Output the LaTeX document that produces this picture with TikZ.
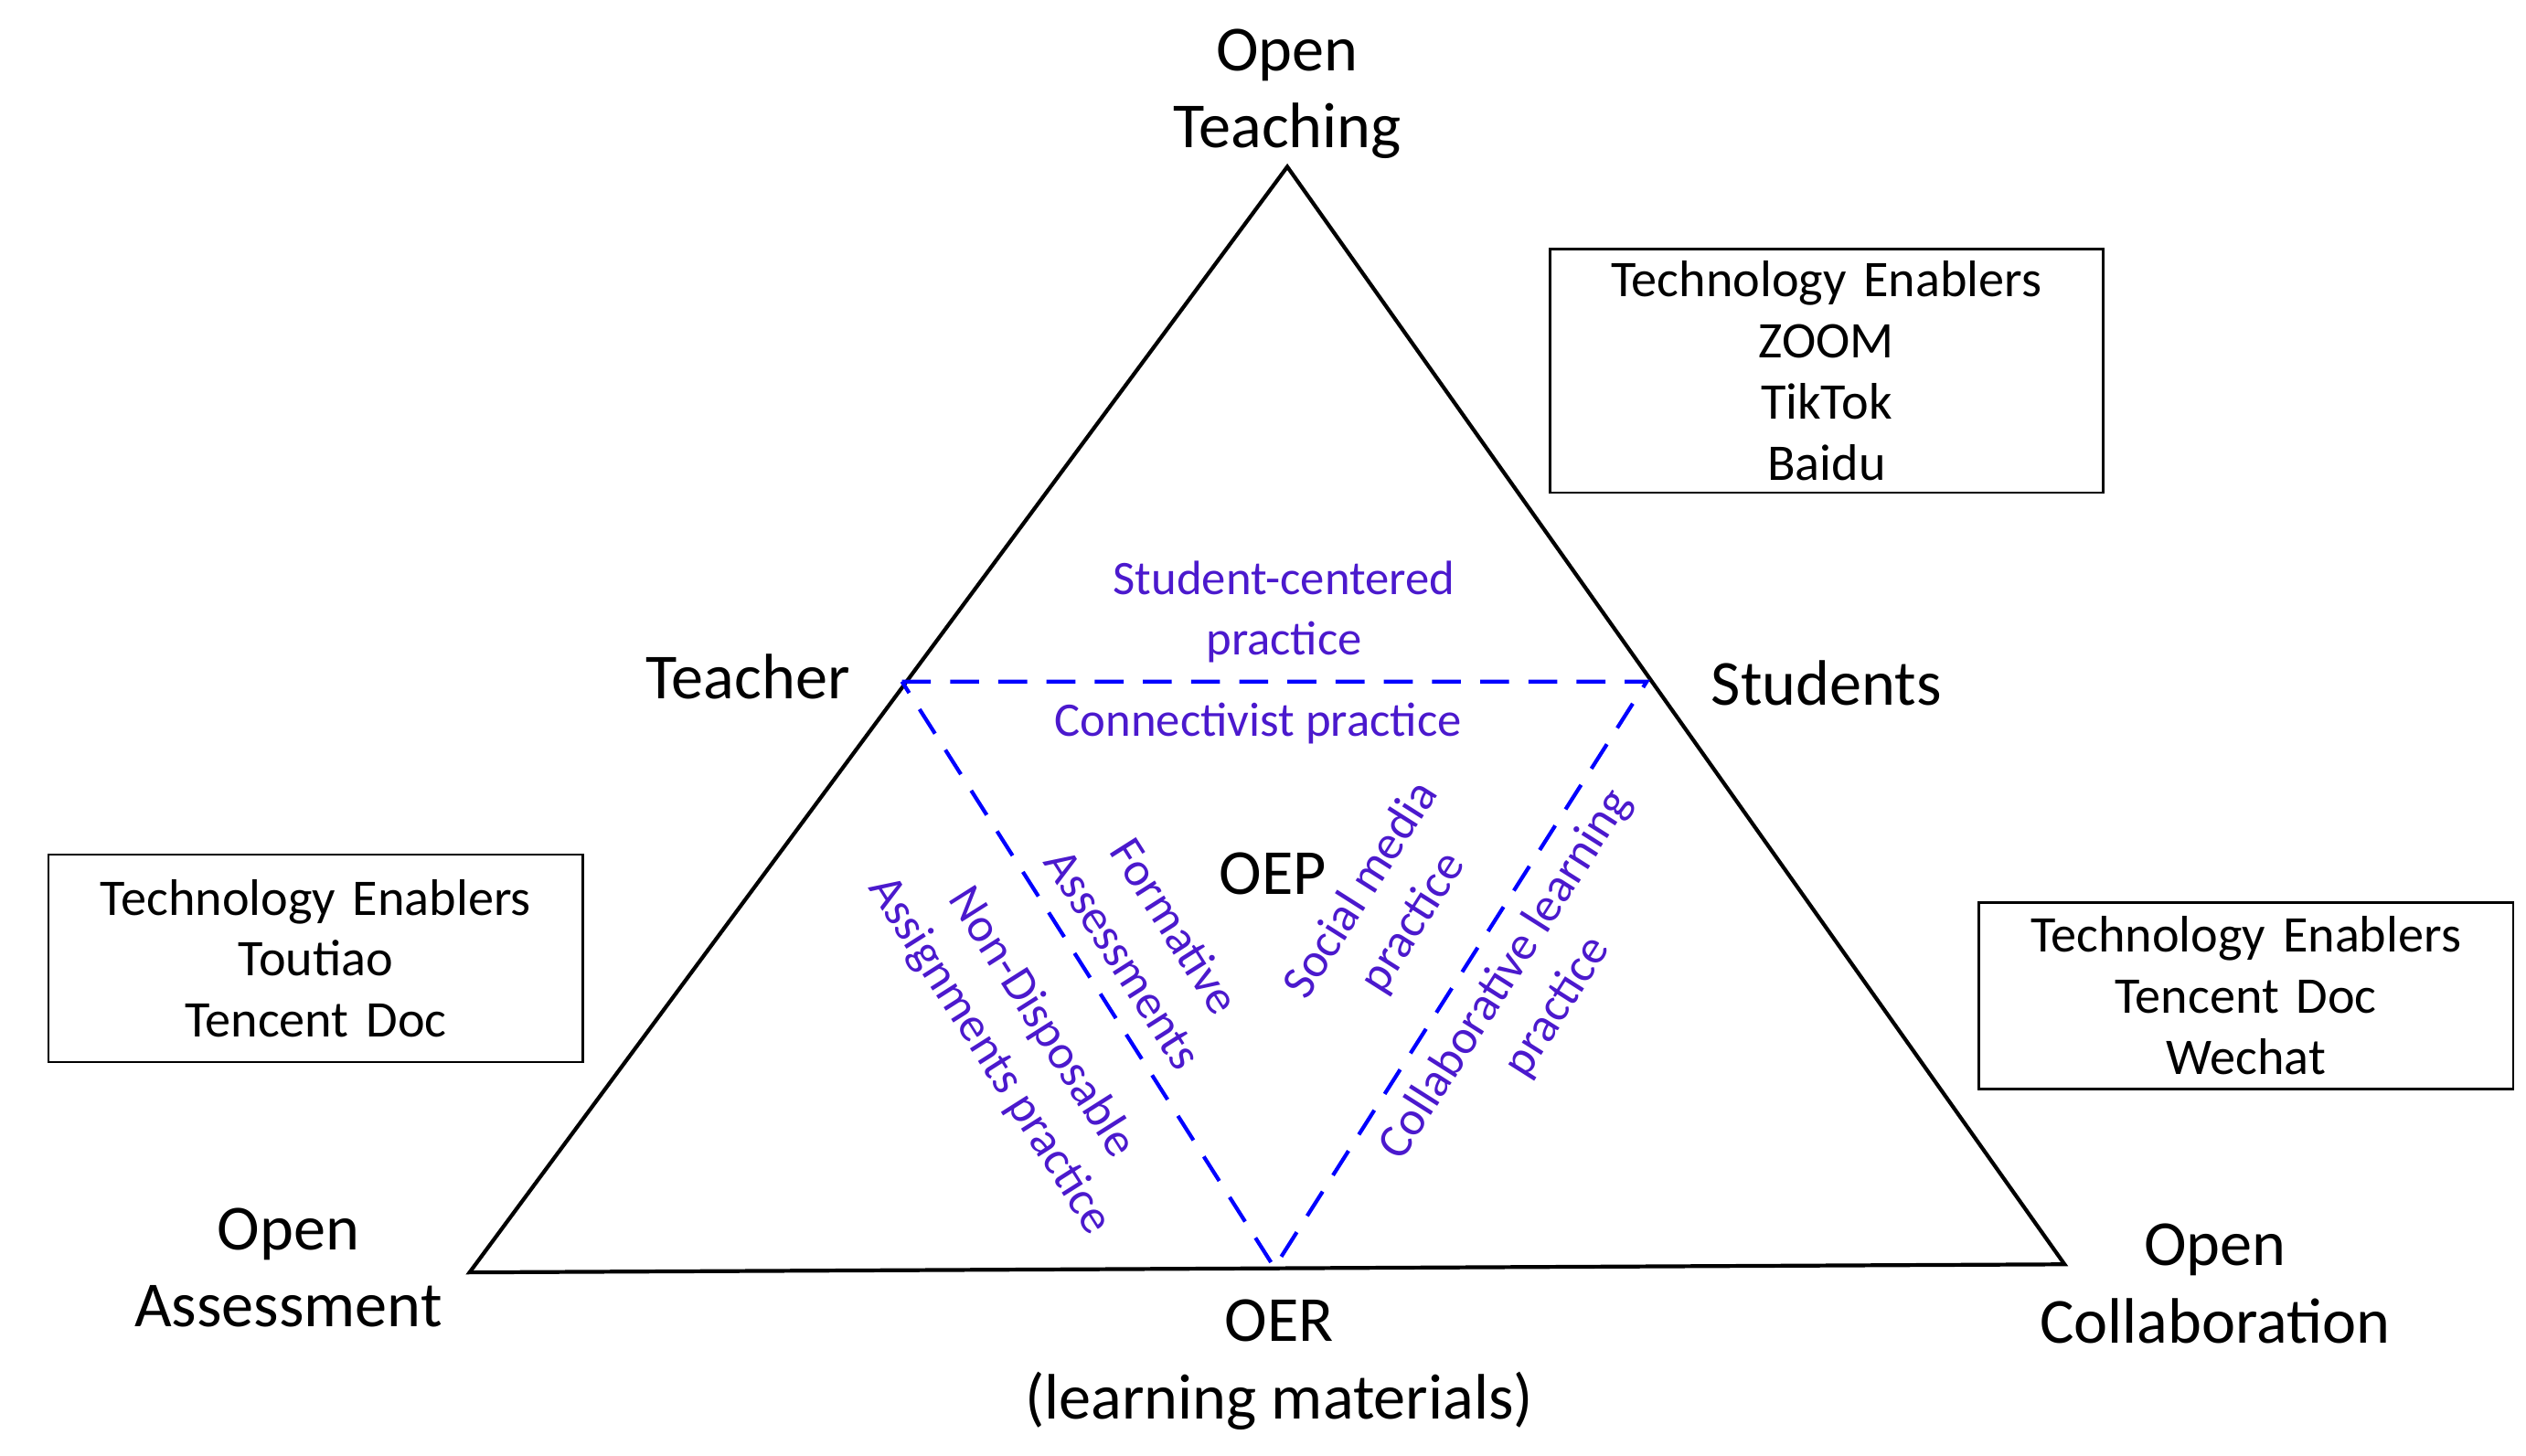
\documentclass[tikz,border=0pt]{standalone}
\usepackage{fontspec}
\setmainfont{Carlito}
\definecolor{oepblue}{RGB}{75,25,205}
\tikzset{
  big/.style={font=\fontsize{20}{24}\selectfont, align=center},
  enabler/.style={draw, thick, font=\fontsize{16}{19}\selectfont, align=center, inner sep=0pt},
  practice/.style={text=oepblue, font=\fontsize{15}{19}\selectfont, align=center},
  inner/.style={blue, very thick, dash pattern=on 9pt off 6pt}
}
\begin{document}
\begin{tikzpicture}[x=0.01771cm, y=-0.01771cm]
\useasboundingbox (0,0) rectangle (1560,899);

% outer triangle
\coordinate (apex) at (795,103);
\coordinate (lft) at (290,786);
\coordinate (rgt) at (1275,781);
\draw[very thick] (apex) -- (lft) -- (rgt) -- cycle;

% inner dashed triangle
\coordinate (tch) at (557,421);
\coordinate (stu) at (1017,421);
\coordinate (oer) at (787,783);
\draw[inner] (tch) -- (stu) -- (oer) -- cycle;

% corner labels
\node[big] (openteach) at (795,58) {Open\\Teaching};
\node[big] (teacher) at (462,418) {Teacher};
\node[big] (students) at (1128,422) {Students};
\node[big] (openassess) at (178,783) {Open\\Assessment};
\node[big] (opencollab) at (1368,793) {Open\\Collaboration};
\node[big] (oerlabel) at (790,843) {OER\\(learning materials)};
\node[big] (oep) at (786,540) {OEP};

% technology boxes
\node[enabler, text width=6.05cm, minimum height=2.67cm] (techtop) at (1128,229) {Technology Enablers\\ZOOM\\TikTok\\Baidu};
\node[enabler, text width=5.85cm, minimum height=2.27cm] (techleft) at (195,592) {Technology Enablers\\Toutiao\\Tencent Doc};
\node[enabler, text width=5.85cm, minimum height=2.04cm] (techright) at (1387,615) {Technology Enablers\\Tencent Doc\\Wechat};

% practices
\node[practice] (studcent) at (793,378) {Student-centered\\practice};
\node[practice] (connect) at (777,447) {Connectivist practice};
\node[practice, rotate=-57.6] (formative) at (710,582) {Formative\\Assessments};
\node[practice, rotate=-57.6] (nondisp) at (627,642) {Non-Disposable\\Assignments practice};
\node[practice, rotate=57.6] (social) at (857,560) {Social media\\practice};
\node[practice, rotate=57.6] (collab) at (946,612) {Collaborative learning\\practice};
\end{tikzpicture}
\end{document}
